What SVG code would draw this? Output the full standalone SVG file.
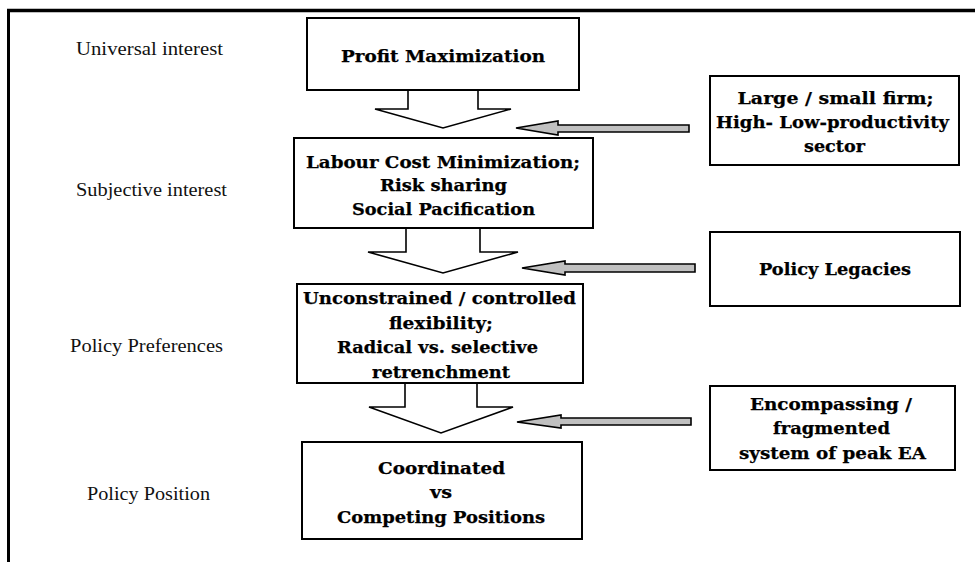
<svg xmlns="http://www.w3.org/2000/svg" width="975" height="562" viewBox="0 0 975 562">
<style>
.box{fill:#fff;stroke:#000;stroke-width:2}
.blk{fill:#fff;stroke:#000;stroke-width:1.6;stroke-linejoin:miter}
.gray{fill:#c0c0c0;stroke:#000;stroke-width:1.6;stroke-linejoin:miter}
.t{font-family:"DejaVu Serif","Liberation Serif",serif;font-weight:bold;font-size:17px;fill:#000;stroke:#000;stroke-width:0.25;text-anchor:middle}
.lbl{font-family:"Liberation Serif","Times New Roman",serif;font-size:18.5px;fill:#111;text-anchor:middle}
</style>
<rect width="975" height="562" fill="#fff"/>
<g id="frame">
<line x1="7" y1="10.5" x2="975" y2="10.5" stroke="#000" stroke-width="3.5"/>
<line x1="8.5" y1="9" x2="8.5" y2="562" stroke="#000" stroke-width="3"/>
</g>
<g id="labels">
<text class="lbl" x="149.5" y="55" textLength="147" lengthAdjust="spacingAndGlyphs">Universal interest</text>
<text class="lbl" x="151.5" y="196" textLength="151" lengthAdjust="spacingAndGlyphs">Subjective interest</text>
<text class="lbl" x="146.5" y="352" textLength="153" lengthAdjust="spacingAndGlyphs">Policy Preferences</text>
<text class="lbl" x="148.5" y="500" textLength="123" lengthAdjust="spacingAndGlyphs">Policy Position</text>
</g>
<g id="connectors">
<path class="blk" d="M408,89 V109 H375 L443,128 L511,109 H478 V89"/>
<path class="blk" d="M406,227 V252 H368 L443,273 L518,252 H480 V227"/>
<path class="blk" d="M405,382 V407 H369 L441,433 L513,407 H477 V382"/>
<path class="gray" d="M516,128 L558,121 V125 H689 V132 H558 V135 Z"/>
<path class="gray" d="M522,268 L565,261 V264 H695 V272 H565 V275 Z"/>
<path class="gray" d="M517,422 L561,415 V418 H691 V425 H561 V428 Z"/>
</g>
<g id="profit">
<rect class="box" x="307" y="18" width="272" height="72"/>
<text class="t" x="443" y="62" textLength="204" lengthAdjust="spacingAndGlyphs">Profit Maximization</text>
</g>
<g id="subjective">
<rect class="box" x="294" y="138" width="299" height="90"/>
<text class="t" x="443" y="167.5" textLength="274" lengthAdjust="spacingAndGlyphs">Labour Cost Minimization;</text>
<text class="t" x="443.5" y="190.5" textLength="127" lengthAdjust="spacingAndGlyphs">Risk sharing</text>
<text class="t" x="443.5" y="214.5" textLength="183" lengthAdjust="spacingAndGlyphs">Social Pacification</text>
</g>
<g id="preferences">
<rect class="box" x="297" y="284" width="286" height="99"/>
<text class="t" x="439.5" y="304" textLength="273" lengthAdjust="spacingAndGlyphs">Unconstrained / controlled</text>
<text class="t" x="441" y="329" textLength="104" lengthAdjust="spacingAndGlyphs">flexibility;</text>
<text class="t" x="437.5" y="353" textLength="201" lengthAdjust="spacingAndGlyphs">Radical vs. selective</text>
<text class="t" x="441" y="378" textLength="138" lengthAdjust="spacingAndGlyphs">retrenchment</text>
</g>
<g id="position">
<rect class="box" x="302" y="442" width="280" height="97"/>
<text class="t" x="441.5" y="474" textLength="127" lengthAdjust="spacingAndGlyphs">Coordinated</text>
<text class="t" x="441" y="498" textLength="22" lengthAdjust="spacingAndGlyphs">vs</text>
<text class="t" x="441" y="523" textLength="208" lengthAdjust="spacingAndGlyphs">Competing Positions</text>
</g>
<g id="firm">
<rect class="box" x="710" y="76" width="249" height="89"/>
<text class="t" x="835.5" y="104" textLength="196" lengthAdjust="spacingAndGlyphs">Large / small firm;</text>
<text class="t" x="832.5" y="128" textLength="233" lengthAdjust="spacingAndGlyphs">High- Low-productivity</text>
<text class="t" x="834.5" y="152" textLength="61" lengthAdjust="spacingAndGlyphs">sector</text>
</g>
<g id="legacies">
<rect class="box" x="710" y="232" width="250" height="74"/>
<text class="t" x="835" y="275" textLength="152" lengthAdjust="spacingAndGlyphs">Policy Legacies</text>
</g>
<g id="peak">
<rect class="box" x="710" y="386" width="245" height="84"/>
<text class="t" x="831" y="410" textLength="162" lengthAdjust="spacingAndGlyphs">Encompassing /</text>
<text class="t" x="831.5" y="434" textLength="117" lengthAdjust="spacingAndGlyphs">fragmented</text>
<text class="t" x="832.5" y="459" textLength="187" lengthAdjust="spacingAndGlyphs">system of peak EA</text>
</g>
</svg>
